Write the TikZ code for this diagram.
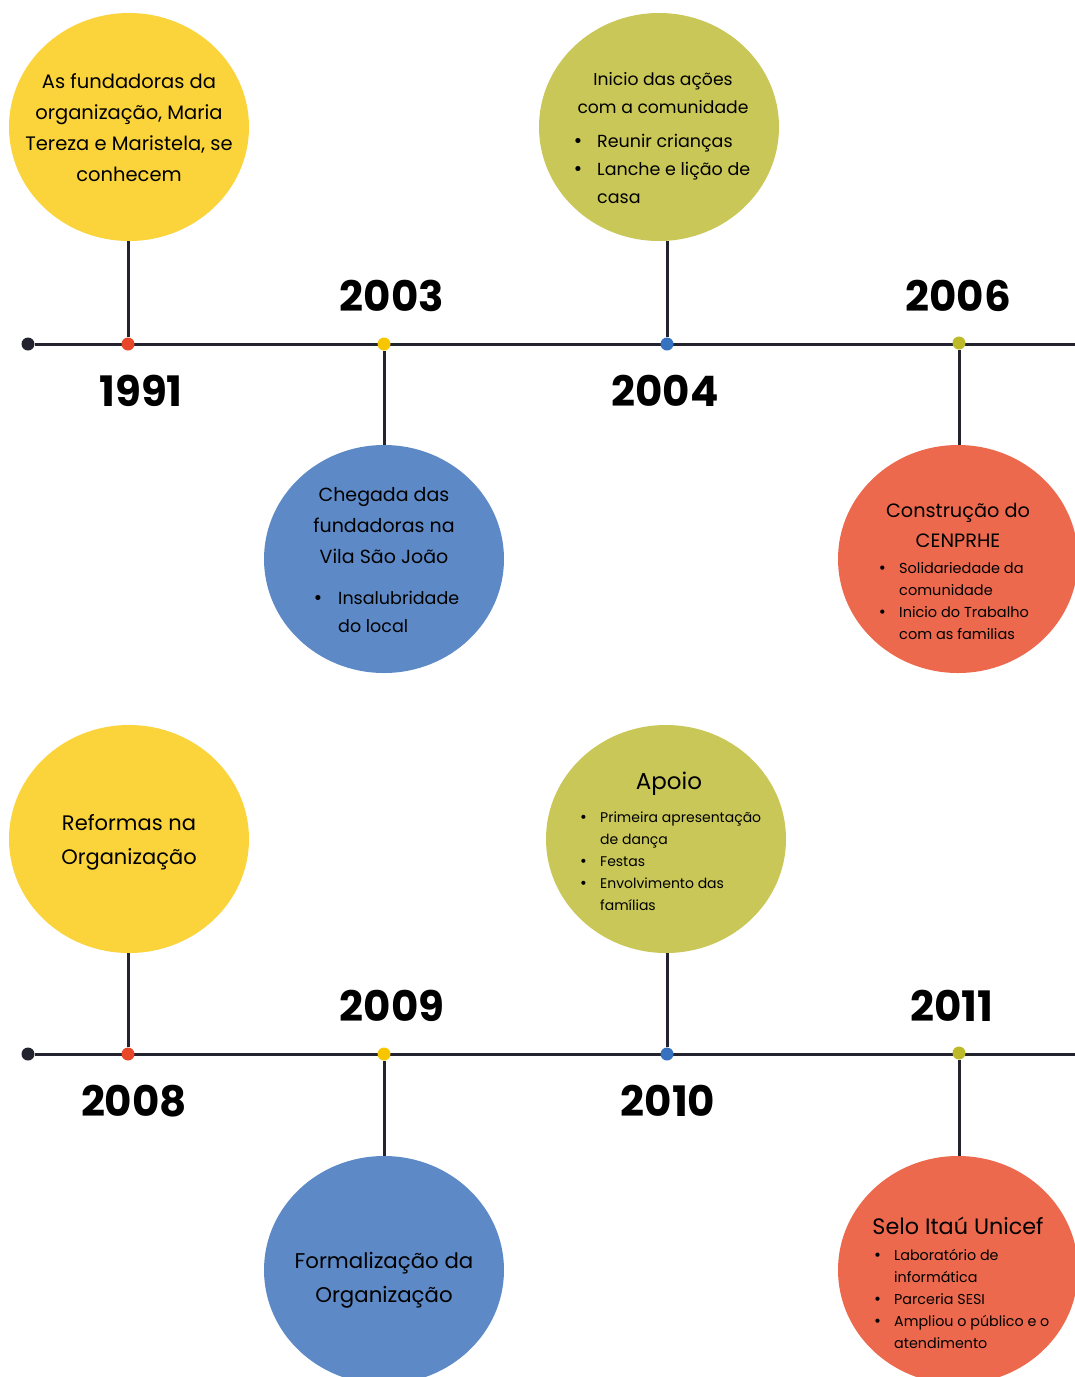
\documentclass[tikz,border=0pt]{standalone}
\usepackage{fontspec}
\setmainfont{Poppins}
\newfontfamily\dv{DejaVu Sans}
\usetikzlibrary{shapes.geometric}
\definecolor{linec}{HTML}{23232F}
\definecolor{dred}{HTML}{E8472A}
\definecolor{dyel}{HTML}{F7C600}
\definecolor{dblu}{HTML}{3672C0}
\definecolor{doli}{HTML}{BDBA2A}
\definecolor{cyel}{HTML}{FBD33B}
\definecolor{cblu}{HTML}{5D8AC7}
\definecolor{coli}{HTML}{C9C757}
\definecolor{cora}{HTML}{EC694E}
\newcommand\tl[3]{\fontsize{#1}{#2}\selectfont\begin{tabular}[t]{@{}c@{}}#3\end{tabular}}
\newlength\bgap
\newcommand\bi{\llap{{\dv •}\hspace{\bgap}}}
\newcommand\bl[4]{\fontsize{#1}{#2}\selectfont\setlength\bgap{#3}\begin{tabular}[t]{@{}l@{}}#4\end{tabular}}
\begin{document}
\begin{tikzpicture}[x=1pt,y=-1pt,
  bubble/.style={ellipse, minimum width=240pt, minimum height=228pt, inner sep=0pt},
  dot/.style={circle, minimum size=13pt, inner sep=0pt},
  stem/.style={line width=3pt, draw=linec},
  year/.style={font=\fontsize{42}{42}\selectfont\bfseries, inner sep=0pt, text=black},
  ttl/.style={anchor=base, inner sep=0pt, text=black},
  lst/.style={anchor=base west, inner sep=0pt, text=black}]
\clip (0,0) rectangle (1075,1377);
\fill[white] (0,0) rectangle (1075,1377);

% ---------------- Timeline 1 ----------------
\node[dot, fill=linec] (s1) at (28,344) {};
\coordinate (e1) at (1080,344);
\draw[stem] (s1) -- (e1);

\node[bubble, fill=cyel] (c1991) at (129,127) {};
\node[bubble, fill=cblu] (c2003) at (384,559) {};
\node[bubble, fill=coli] (c2004) at (659,127) {};
\node[bubble, fill=cora] (c2006) at (958,559) {};

\node[dot, fill=dred] (d1991) at (128,344) {};
\node[dot, fill=dyel] (d2003) at (384,344) {};
\node[dot, fill=dblu] (d2004) at (667,344) {};
\node[dot, fill=doli] (d2006) at (959,343) {};

\draw[stem] (d1991.north) -- (d1991 |- c1991.south);
\draw[stem] (d2003.south) -- (c2003.north);
\draw[stem] (d2004.north) -- (d2004 |- c2004.south);
\draw[stem] (d2006.south) -- (d2006 |- c2006.north);

\node[year] (y1991) at (141,391) {1991};
\node[year] (y2003) at (392,296) {2003};
\node[year] (y2004) at (665,391) {2004};
\node[year] (y2006) at (958,296) {2006};

\node[ttl] (t1991) at (129,88) {\tl{19.5}{31}{As fundadoras da\\organização, Maria\\Tereza e Maristela, se\\conhecem}};

\node[ttl] (t2003) at (384,501) {\tl{19}{31}{Chegada das\\fundadoras na\\Vila São João}};
\node[lst] (l2003) at (338,604) {\bl{17.5}{28}{15pt}{\bi Insalubridade\\do local}};

\node[ttl] (t2004) at (663,85) {\tl{17.2}{28}{Inicio das ações\\com a comunidade}};
\node[lst] (l2004) at (597,147) {\bl{17.5}{28}{14pt}{\bi Reunir crianças\\\bi Lanche e lição de\\casa}};

\node[ttl] (t2006) at (958,517) {\tl{19.3}{30}{Construção do\\CENPRHE}};
\node[lst] (l2006) at (899,573) {\bl{14.5}{22.3}{12.5pt}{\bi Solidariedade da\\comunidade\\\bi Inicio do Trabalho\\com as familias}};

% ---------------- Timeline 2 ----------------
\node[dot, fill=linec] (s2) at (28,1054) {};
\coordinate (e2) at (1080,1054);
\draw[stem] (s2) -- (e2);

\node[bubble, fill=cyel] (c2008) at (129,839) {};
\node[bubble, fill=cblu] (c2009) at (384,1270) {};
\node[bubble, fill=coli] (c2010) at (666,839) {};
\node[bubble, fill=cora] (c2011) at (958,1270) {};

\node[dot, fill=dred] (d2008) at (128,1054) {};
\node[dot, fill=dyel] (d2009) at (384,1054) {};
\node[dot, fill=dblu] (d2010) at (667,1054) {};
\node[dot, fill=doli] (d2011) at (959,1053) {};

\draw[stem] (d2008.north) -- (d2008 |- c2008.south);
\draw[stem] (d2009.south) -- (c2009.north);
\draw[stem] (d2010.north) -- (d2010 |- c2010.south);
\draw[stem] (d2011.south) -- (d2011 |- c2011.north);

\node[year] (y2008) at (134,1101) {2008};
\node[year] (y2009) at (392,1006) {2009};
\node[year] (y2010) at (668,1101) {2010};
\node[year] (y2011) at (952,1006) {2011};

\node[ttl] (t2008) at (129,830) {\tl{21}{34}{Reformas na\\Organização}};
\node[ttl] (t2009) at (384,1268) {\tl{21.3}{34}{Formalização da\\Organização}};

\node[ttl] (t2010) at (669,789) {\tl{23}{30}{Apoio}};
\node[lst] (l2010) at (600,822) {\bl{14}{22}{12.5pt}{\bi Primeira apresentação\\de dança\\\bi Festas\\\bi Envolvimento das\\famílias}};

\node[ttl] (t2011) at (958,1234) {\tl{22.3}{30}{Selo Itaú Unicef}};
\node[lst] (l2011) at (894,1260) {\bl{14.3}{22}{12.5pt}{\bi Laboratório de\\informática\\\bi Parceria SESI\\\bi Ampliou o público e o\\atendimento}};
\end{tikzpicture}
\end{document}
